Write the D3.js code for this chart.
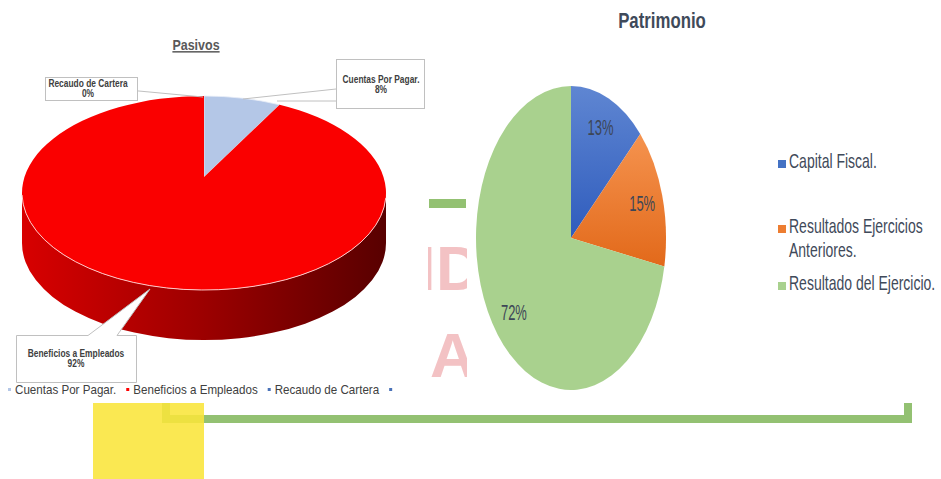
<!DOCTYPE html>
<html>
<head>
<meta charset="utf-8">
<script src="https://cdn.jsdelivr.net/npm/d3@7"></script>
<style>
  body { margin: 0; background: #fff; }
  svg { display: block; }
  text { font-family: 'Liberation Sans', Arial, sans-serif; }
</style>
</head>
<body>
<svg width="941" height="479"></svg>
<script>
// Pasivos (left, 3D pie) data
var pasivosLabels = ["Cuentas Por Pagar.", "Beneficios a Empleados", "Recaudo de Cartera"];
var pasivosValues = [8, 92, 0];
var pasivosColors = ['#b4c7e7', '#fa0000', '#4a72b8'];
var pasivosLegend = ["Cuentas Por Pagar.", "Beneficios a Empleados", "Recaudo de Cartera", ""];
var pasivosLegendColors = ['#b4c7e7', '#ff0000', '#4a72b8', '#4a72b8'];

// Patrimonio (right pie) data
var patrimonioLabels = ["Capital Fiscal.", "Resultados Ejercicios Anteriores.", "Resultado del Ejercicio."];
var patrimonioValues = [13, 15, 72];
var patrimonioColors = ['#4472c4', '#ed7d31', '#a9d18e'];

var svg = d3.select('svg');
var defs = svg.append('defs');

// scaled text helper (the slide was stretched vertically)
function sText(parent, x, y, str, size, sy, opts) {
    opts = opts || {};
    return parent.append('text')
        .attr('transform', 'translate(' + x + ',' + y + ') scale(1,' + sy + ')')
        .text(str)
        .style('font-size', size + 'px')
        .style('font-weight', opts.weight || 'normal')
        .style('fill', opts.fill || '#404040')
        .style('text-anchor', opts.anchor || 'start')
        .style('text-decoration', opts.deco || 'none');
}

// ---------- background decorations ----------
var deco = svg.append('g');
deco.append('rect').attr('x', 429).attr('y', 199).attr('width', 37).attr('height', 9).style('fill', '#93c172');

defs.append('clipPath').attr('id', 'wm').append('rect')
    .attr('x', 428).attr('y', 230).attr('width', 39).attr('height', 160);
var wm = deco.append('g').attr('clip-path', 'url(#wm)')
    .style('fill', '#f3c2c4').style('font-weight', 'bold').style('font-size', '63px');
wm.append('text').attr('x', 418).attr('y', 290).text('I');
wm.append('text').attr('x', 436).attr('y', 290).text('D');
wm.append('text').attr('x', 430).attr('y', 377).text('A');

// green bracket + yellow block
deco.append('path')
    .attr('d', 'M166,403 V419 H908 V403')
    .style('fill', 'none').style('stroke', '#93c172').style('stroke-width', 8);
deco.append('rect').attr('x', 93).attr('y', 403).attr('width', 111).attr('height', 76)
    .style('fill', '#f9e53a').style('opacity', 0.88);

// ---------- Pasivos 3D pie ----------
// k = perspective shift of the pie centre towards the back
var pc = { cx: 204, cy: 193, rx: 182, ry: 97, depth: 50, k: 0.165 };

// pie angle (clockwise from top) -> screen ellipse parameter, via a projective map
function screenParam(a) {
    var u = Math.sin(a), v = Math.cos(a);
    var U = u * Math.sqrt(1 - pc.k * pc.k) / (1 + pc.k * v);
    var V = (v + pc.k) / (1 + pc.k * v);
    return Math.atan2(U, V);
}
function ep(t, dy) {
    return [pc.cx + pc.rx * Math.sin(t), pc.cy - pc.ry * Math.cos(t) + (dy || 0)];
}
var pieP = d3.pie().sort(null)(pasivosValues);
pieP.forEach(function(d) {
    d.t0 = screenParam(d.startAngle);
    d.t1 = screenParam(d.endAngle);
    if (d.t0 < 0) d.t0 += 2 * Math.PI;
    if (d.t1 <= 0 && d.endAngle > 0) d.t1 += 2 * Math.PI;
});
var vertex = [pc.cx, pc.cy - pc.ry * pc.k];

var grad = defs.append('linearGradient').attr('id', 'side')
    .attr('gradientUnits', 'userSpaceOnUse')
    .attr('x1', pc.cx - pc.rx).attr('x2', pc.cx + pc.rx).attr('y1', 0).attr('y2', 0);
grad.append('stop').attr('offset', '0').attr('stop-color', '#d80000');
grad.append('stop').attr('offset', '0.5').attr('stop-color', '#9c0000');
grad.append('stop').attr('offset', '1').attr('stop-color', '#580000');

var p3 = svg.append('g');
// side walls (front half only)
pieP.forEach(function(d, i) {
    var s = Math.max(d.t0, Math.PI / 2), e = Math.min(d.t1, Math.PI * 1.5);
    if (e <= s) return;
    var a = ep(s), b = ep(e), b2 = ep(e, pc.depth), a2 = ep(s, pc.depth);
    var large = (e - s) > Math.PI ? 1 : 0;
    p3.append('path')
        .attr('d', 'M' + a + ' A' + pc.rx + ',' + pc.ry + ' 0 ' + large + ' 1 ' + b +
            ' L' + b2 + ' A' + pc.rx + ',' + pc.ry + ' 0 ' + large + ' 0 ' + a2 + ' Z')
        .style('fill', i === 1 ? 'url(#side)' : d3.color(pasivosColors[i]).darker(1));
});
// top faces
pieP.forEach(function(d, i) {
    if (d.endAngle - d.startAngle <= 0) return;
    var a = ep(d.t0), b = ep(d.t1);
    var large = (d.t1 - d.t0) > Math.PI ? 1 : 0;
    p3.append('path')
        .attr('d', 'M' + vertex + ' L' + a + ' A' + pc.rx + ',' + pc.ry + ' 0 ' + large + ' 1 ' + b + ' Z')
        .style('fill', pasivosColors[i])
        .style('stroke', i === 0 ? '#e8eef8' : 'none').style('stroke-width', 0.8);
});
// front rim highlight
p3.append('path')
    .attr('d', 'M' + ep(Math.PI / 2 + 0.05) + ' A' + pc.rx + ',' + pc.ry + ' 0 0 1 ' + ep(Math.PI * 1.5 - 0.02))
    .style('fill', 'none').style('stroke', '#ffc8c8').style('stroke-width', 1);

// title
sText(svg, 196, 50, 'Pasivos', 12.5, 1.2, { weight: 'bold', fill: '#595959', anchor: 'middle', deco: 'underline' });

// data label callouts
var box = svg.append('g').style('stroke', '#c0c0c0').style('fill', '#fff').style('stroke-width', 1);
box.append('line').attr('x1', 128).attr('y1', 90).attr('x2', 203).attr('y2', 97);
box.append('rect').attr('x', 45.5).attr('y', 77.5).attr('width', 92).attr('height', 23);
box.append('path').attr('d', 'M336,89 L243,99 M336,101 L277,101');
box.append('rect').attr('x', 336.5).attr('y', 59.5).attr('width', 88).attr('height', 49);
box.append('path').attr('d', 'M16.5,335.5 H88 L150,289 L117,335.5 H136.5 V382.5 H16.5 Z');

function boxLabel(x, y, i) {
    sText(svg, x, y, pasivosLabels[i], 8.4, 1.2, { weight: 'bold', anchor: 'middle', fill: '#404040' });
    sText(svg, x, y + 10, pasivosValues[i] + '%', 8.4, 1.2, { weight: 'bold', anchor: 'middle', fill: '#404040' });
}
boxLabel(88, 87, 2);
boxLabel(381, 83, 0);
boxLabel(76, 357, 1);

// legend (bottom)
var lx = 15;
pasivosLegend.forEach(function(name, i) {
    svg.append('rect').attr('x', lx - 7).attr('y', 388).attr('width', 3).attr('height', 3)
        .style('fill', pasivosLegendColors[i]);
    if (!name) return;
    var t = sText(svg, lx, 394, name, 11.6, 1.15, { fill: '#404040' });
    lx += t.node().getComputedTextLength() + 17;
});

// ---------- Patrimonio pie ----------
var rc = { cx: 571, cy: 238, rx: 95, ry: 152 };
var pieR = d3.pie().sort(null)(patrimonioValues);
var arcR = d3.arc().innerRadius(0).outerRadius(rc.rx);

var gradStops = [['#5f86d2', '#2f5cbd'], ['#f5934f', '#e2691a'], ['#a9d18e', '#a9d18e']];
gradStops.forEach(function(s, i) {
    var g = defs.append('linearGradient').attr('id', 'pg' + i).attr('x1', 0).attr('x2', 0).attr('y1', 0).attr('y2', 1);
    g.append('stop').attr('offset', '0').attr('stop-color', s[0]);
    g.append('stop').attr('offset', '1').attr('stop-color', s[1]);
});

svg.append('g')
    .attr('transform', 'translate(' + rc.cx + ',' + rc.cy + ') scale(1,' + (rc.ry / rc.rx) + ')')
    .selectAll('path')
    .data(pieR)
    .enter()
    .append('path')
    .attr('d', arcR)
    .style('fill', function(d, i) { return 'url(#pg' + i + ')'; });

// percent labels inside the slices
pieR.forEach(function(d) {
    var m = (d.startAngle + d.endAngle) / 2;
    var x = rc.cx + 0.78 * rc.rx * Math.sin(m);
    var y = rc.cy - 0.78 * rc.ry * Math.cos(m);
    sText(svg, x, y + 6, d.value + '%', 13, 1.75, { anchor: 'middle', fill: '#3d4656' });
});

sText(svg, 662, 28, 'Patrimonio', 16.8, 1.33, { weight: 'bold', anchor: 'middle', fill: '#3f4a5a' });

// right legend
var legRows = [
    { lines: ['Capital Fiscal.'], y: 168 },
    { lines: ['Resultados Ejercicios', 'Anteriores.'], y: 233 },
    { lines: ['Resultado del Ejercicio.'], y: 290 }
];
legRows.forEach(function(r, i) {
    svg.append('rect').attr('x', 778).attr('y', r.y - 8).attr('width', 8).attr('height', 8)
        .style('fill', patrimonioColors[i]);
    r.lines.forEach(function(l, j) {
        sText(svg, 789, r.y + j * 24, l, 14, 1.38, { fill: '#3f4a5a' });
    });
});
</script>
</body>
</html>
